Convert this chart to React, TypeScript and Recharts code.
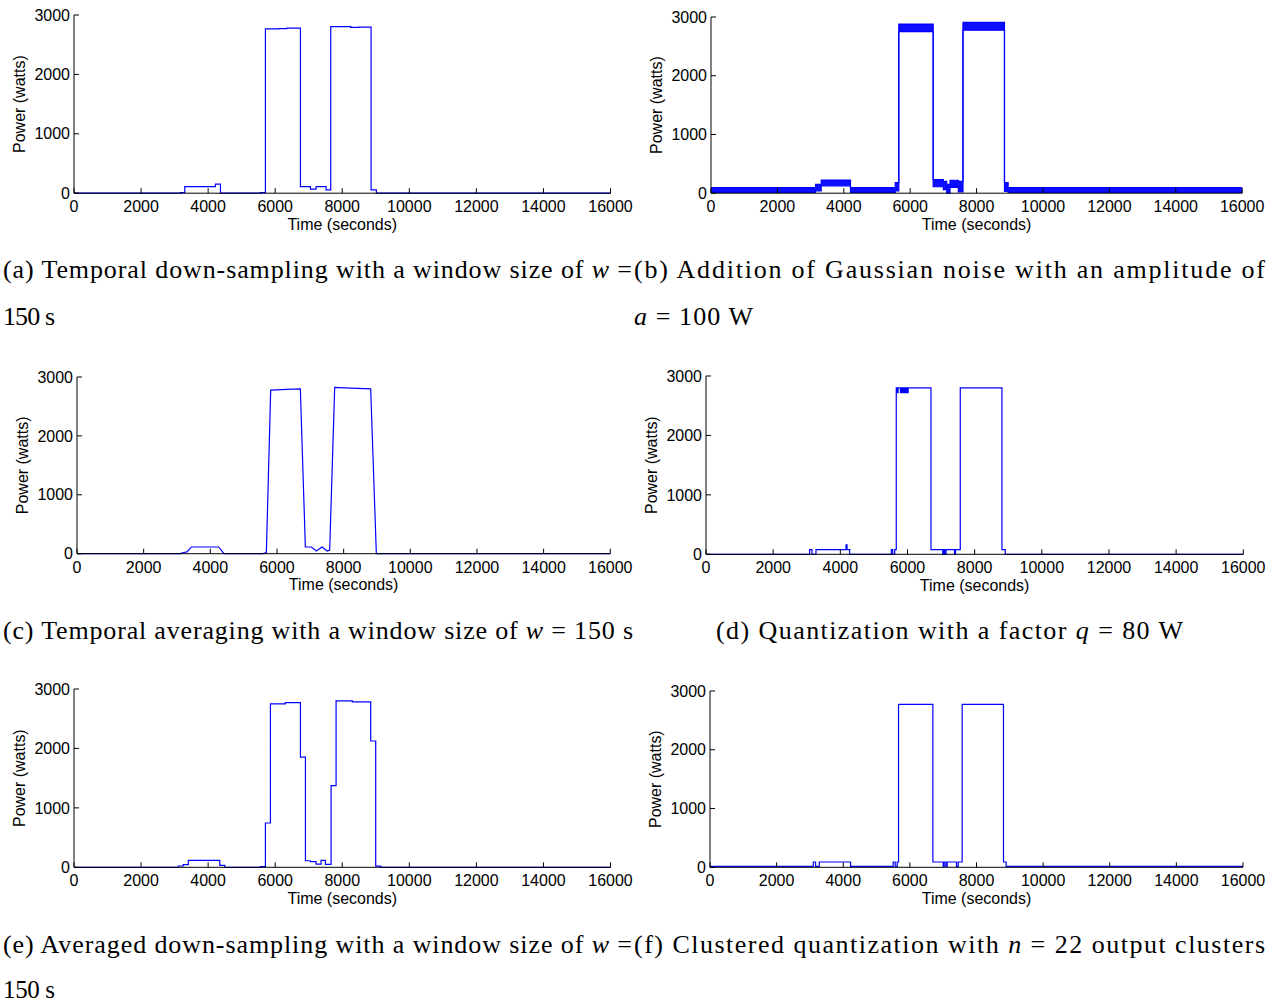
import React from 'react';
import { ComposedChart, Line, Area, XAxis, YAxis } from 'recharts';

const timeTicks = [0, 2000, 4000, 6000, 8000, 10000, 12000, 14000, 16000];
const powerTicks = [0, 1000, 2000, 3000];

// (a) Temporal down-sampling (step change points)
const aTime = [0, 3175, 3304, 4218, 4368, 5560, 5709, 6100, 6350, 6753, 7051, 7220, 7518, 7657, 8250, 8500, 8860, 9018, 16000];
const aPower = [0, 8, 112, 152, 0, 10, 2765, 2772, 2778, 112, 67, 112, 55, 2805, 2790, 2795, 55, 0, 0];

// (b) Gaussian noise: band low / high envelopes (step change points)
const bTime = [0, 3150, 3320, 4201, 5550, 5657, 6692, 7000, 7100, 7200, 7450, 7590, 8840, 8950, 16000];
const bLow = [15, 40, 125, 15, 40, 2750, 110, 60, 0, 100, 20, 2775, 30, 15, 15];
const bHigh = [95, 150, 225, 95, 180, 2880, 230, 200, 150, 220, 200, 2910, 180, 95, 95];

// (c) Temporal averaging (linear points)
const cTime = [0, 3100, 3200, 3300, 3430, 4250, 4411, 5581, 5681, 5811, 6300, 6701, 6851, 7031, 7181, 7351, 7511, 7581, 7731, 8200, 8811, 8981, 16000];
const cPower = [0, 0, 20, 30, 114, 114, 0, 0, 20, 2776, 2790, 2799, 114, 114, 46, 114, 46, 60, 2822, 2810, 2799, 0, 0];

// (d) Quantization q = 80 W (step change points)
const dTime = [0, 3086, 3156, 3275, 4170, 4200, 4278, 5517, 5560, 5620, 5666, 5686, 5720, 5790, 5810, 5830, 5850, 5870, 5890, 5910, 5930, 5950, 5970, 5990, 6020, 6700, 7050, 7080, 7110, 7150, 7400, 7430, 7572, 8813, 8912, 16000];
const dPower = [0, 80, 0, 80, 160, 80, 0, 80, 0, 80, 2800, 2720, 2800, 2720, 2800, 2720, 2800, 2720, 2800, 2720, 2800, 2720, 2800, 2720, 2800, 80, 0, 80, 0, 80, 0, 80, 2800, 80, 0, 0];

// (e) Averaged down-sampling (step change points)
const eTime = [0, 3111, 3260, 3410, 4347, 4497, 5560, 5709, 5858, 6300, 6753, 6902, 7051, 7219, 7368, 7497, 7667, 7816, 8300, 8849, 8998, 9150, 16000];
const ePower = [0, 22, 45, 117, 34, 0, 10, 745, 2750, 2770, 1855, 110, 95, 55, 117, 50, 1375, 2800, 2785, 2125, 20, 0, 0];

// (f) Clustered quantization n = 22 (step change points)
const fTime = [0, 3100, 3170, 3280, 4220, 5500, 5560, 5620, 5660, 6690, 7000, 7030, 7080, 7120, 7400, 7450, 7570, 8810, 8890, 16000];
const fPower = [15, 90, 15, 90, 15, 90, 15, 90, 2771, 90, 15, 90, 15, 90, 15, 90, 2771, 90, 15, 15];

const toSeries = (t: number[], v: number[]) => t.map((x, i) => ({ t: x, v: v[i] }));
const toBand = (t: number[], lo: number[], hi: number[]) => t.map((x, i) => ({ t: x, band: [lo[i], hi[i]] }));

const SANS = '"Liberation Sans", Arial, Helvetica, sans-serif';
const SERIF = '"Liberation Serif", "Times New Roman", serif';
const BLUE = '#0000ff';
const YW = 110;
const XH = 62;
const MT = 10;
const MR = 24;
const XTM = 5;
const YTM = 4;

const XTick = (p: any) => {
  const { x, y, payload } = p;
  const axisY = y - XTM;
  return (
    <g>
      <line x1={x} x2={x} y1={axisY} y2={axisY - 5} stroke="#000" strokeWidth={1} />
      <text x={x} y={y} dy={14} textAnchor="middle" fontSize={16} fill="#000" fontFamily={SANS}>
        {payload.value}
      </text>
    </g>
  );
};

const YTick = (p: any) => {
  const { x, y, payload } = p;
  const axisX = x + YTM;
  return (
    <g>
      <line x1={axisX} x2={axisX + 5} y1={y} y2={y} stroke="#000" strokeWidth={1} />
      <text x={x} y={y} dy={5.7} textAnchor="end" fontSize={16} fill="#000" fontFamily={SANS}>
        {payload.value}
      </text>
    </g>
  );
};

type Box = { l: number; t: number; r: number; b: number };

function Panel({ box, data, kind }: { box: Box; data: any[]; kind: 'step' | 'linear' | 'band' }) {
  const w = box.r - box.l;
  const h = box.b - box.t;
  return (
    <div style={{ position: 'absolute', left: box.l - YW, top: box.t - MT }}>
      <ComposedChart
        width={YW + w + MR}
        height={MT + h + XH}
        data={data}
        margin={{ top: MT, right: MR, bottom: 0, left: 0 }}
      >
        <XAxis
          dataKey="t"
          type="number"
          domain={[0, 16000]}
          ticks={timeTicks}
          interval={0}
          tickLine={false}
          tickSize={0}
          tickMargin={XTM}
          tick={XTick}
          axisLine={{ stroke: '#000', strokeWidth: 1 }}
          height={XH}
          label={{ value: 'Time (seconds)', position: 'center', fontSize: 16, fill: '#000', fontFamily: SANS }}
        />
        <YAxis
          type="number"
          domain={[0, 3000]}
          ticks={powerTicks}
          interval={0}
          tickLine={false}
          tickSize={0}
          tickMargin={YTM}
          tick={YTick}
          axisLine={{ stroke: '#000', strokeWidth: 1 }}
          width={YW}
          label={{ value: 'Power (watts)', position: 'center', angle: -90, fontSize: 16, fill: '#000', fontFamily: SANS }}
        />
        {kind === 'band' ? (
          <Area
            dataKey="band"
            type="stepAfter"
            stroke={BLUE}
            strokeWidth={1.2}
            fill={BLUE}
            fillOpacity={0.95}
            dot={false}
            isAnimationActive={false}
          />
        ) : (
          <Line
            dataKey="v"
            type={kind === 'step' ? 'stepAfter' : 'linear'}
            stroke={BLUE}
            strokeWidth={1.2}
            dot={false}
            isAnimationActive={false}
          />
        )}
      </ComposedChart>
    </div>
  );
}

const I = ({ children }: { children: React.ReactNode }) => <tspan fontStyle="italic">{children}</tspan>;

function Captions() {
  const common = { fontSize: 26, fontFamily: SERIF, fill: '#000', lengthAdjust: 'spacing' as const };
  return (
    <svg width={1279} height={1005} style={{ position: 'absolute', left: 0, top: 0, pointerEvents: 'none' }}>
      <text x={3} y={278} textLength={629} {...common}>
        (a) Temporal down-sampling with a window size of <I>w</I> =
      </text>
      <text x={3} y={325} textLength={52} {...common}>150 s</text>
      <text x={634} y={278} textLength={631} {...common}>
        (b) Addition of Gaussian noise with an amplitude of
      </text>
      <text x={634} y={325} textLength={119} {...common}>
        <I>a</I> = 100 W
      </text>
      <text x={3} y={639} textLength={630} {...common}>
        (c) Temporal averaging with a window size of <I>w</I> = 150 s
      </text>
      <text x={716} y={639} textLength={467} {...common}>
        (d) Quantization with a factor <I>q</I> = 80 W
      </text>
      <text x={3} y={953} textLength={629} {...common}>
        (e) Averaged down-sampling with a window size of <I>w</I> =
      </text>
      <text x={3} y={998} textLength={52} fontSize={25} fontFamily={SERIF} fill="#000" lengthAdjust="spacing">150 s</text>
      <text x={634} y={953} textLength={631} {...common}>
        (f) Clustered quantization with <I>n</I> = 22 output clusters
      </text>
    </svg>
  );
}

export default function App() {
  return (
    <div style={{ position: 'absolute', left: 0, top: 0, width: 1279, height: 1005, background: '#fff' }}>
      <Panel box={{ l: 73.5, t: 14.5, r: 610, b: 192.7 }} data={toSeries(aTime, aPower)} kind="step" />
      <Panel box={{ l: 710.5, t: 16.5, r: 1241.7, b: 192.7 }} data={toBand(bTime, bLow, bHigh)} kind="band" />
      <Panel box={{ l: 77.3, t: 377.3, r: 610.6, b: 554 }} data={toSeries(cTime, cPower)} kind="linear" />
      <Panel box={{ l: 705.7, t: 375.7, r: 1243, b: 554 }} data={toSeries(dTime, dPower)} kind="step" />
      <Panel box={{ l: 73.5, t: 689, r: 610, b: 867.3 }} data={toSeries(eTime, ePower)} kind="step" />
      <Panel box={{ l: 710, t: 691, r: 1243, b: 867.3 }} data={toSeries(fTime, fPower)} kind="step" />
      <Captions />
    </div>
  );
}
